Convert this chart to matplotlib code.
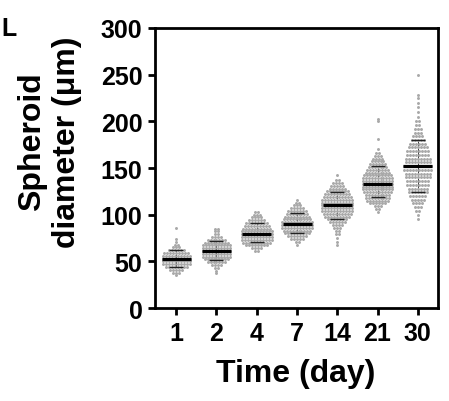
import matplotlib
matplotlib.use('Agg')
import matplotlib.pyplot as plt
import numpy as np

plt.rcParams['font.family'] = ['Liberation Sans', 'DejaVu Sans']
plt.rcParams['font.weight'] = 'bold'

days = ['1', '2', '4', '7', '14', '21', '30']

# spheroid diameters (um), one row of dots per value
d1_vals = [35, 38, 41, 44, 47, 50, 53, 56, 59, 62, 65, 68, 71, 74, 86]
d1_counts = [1, 3, 5, 8, 10, 10, 10, 10, 9, 6, 3, 2, 1, 1, 1]

d2_vals = [37, 40, 43, 46, 49, 52, 55, 58, 61, 64, 67, 70, 73, 76, 79, 82, 85]
d2_counts = [1, 1, 2, 4, 7, 9, 10, 10, 10, 10, 10, 9, 7, 4, 2, 2, 2]

d4_vals = [61, 64, 67, 70, 73, 76, 79, 82, 85, 88, 91, 94, 97, 100, 103]
d4_counts = [2, 4, 8, 10, 11, 11, 11, 11, 10, 9, 8, 6, 4, 3, 2]

d7_vals = [68, 71, 74, 77, 80, 83, 86, 89, 92, 95, 98, 101, 104, 107, 110, 113, 116]
d7_counts = [1, 2, 5, 7, 9, 10, 11, 11, 11, 10, 9, 8, 7, 5, 3, 2, 1]

d14_vals = [67, 71, 75, 79, 83, 86, 89, 92, 95, 98, 101, 104, 107, 110,
            113, 116, 119, 122, 125, 128, 131, 134, 137, 142]
d14_counts = [1, 1, 1, 2, 2, 3, 4, 6, 7, 9, 10, 11, 11, 11,
              11, 11, 10, 9, 8, 6, 5, 4, 2, 1]

d21_vals = [103, 106, 109, 112, 115, 118, 121, 124, 127, 130, 133, 136, 139,
            142, 145, 148, 151, 154, 157, 160, 163, 166, 170, 181, 200, 202]
d21_counts = [1, 2, 3, 6, 8, 9, 9, 10, 11, 11, 11, 11, 11,
              10, 9, 8, 7, 6, 5, 4, 3, 2, 1, 1, 1, 1]

d30_vals = [95, 100, 104, 108, 112, 116, 120, 124, 128, 132, 136, 140, 144,
            148, 152, 156, 160, 164, 168, 172, 176, 180, 184, 188, 192, 196,
            200, 205, 210, 215, 220, 225, 228, 250]
d30_counts = [1, 1, 2, 3, 4, 5, 6, 7, 7, 8, 8, 9, 9,
              10, 10, 9, 9, 8, 8, 7, 6, 5, 4, 3, 3, 2,
              2, 1, 1, 1, 1, 1, 1, 1]


def swarm_x(center, counts, dx=0.074):
    # spread the dots of each row side by side, centred on the column
    xs = []
    for n in counts:
        xs.extend(center + (np.arange(n) - (n - 1) / 2) * dx)
    return np.array(xs)


def main():
    groups = [(d1_vals, d1_counts), (d2_vals, d2_counts), (d4_vals, d4_counts),
              (d7_vals, d7_counts), (d14_vals, d14_counts),
              (d21_vals, d21_counts), (d30_vals, d30_counts)]

    fig = plt.figure(figsize=(4.49, 4.02), dpi=100)
    ax = fig.add_axes([0.345, 0.2313, 0.6303, 0.6966])

    for i, (vals, counts) in enumerate(groups, start=1):
        y = np.repeat(vals, counts)
        x = swarm_x(i, counts)
        ax.scatter(x, y, s=4.5, color='#a8a8a8', linewidths=0, zorder=2)
        # mean +- SD, the stem mostly hides behind the dots
        _, caps, stems = ax.errorbar(i, y.mean(), yerr=y.std(), color='#222222',
                                     lw=0.6, capsize=5, capthick=1.0, zorder=1)
        for c in caps:
            c.set_zorder(3)
        ax.hlines(np.median(y), i - 0.36, i + 0.36, color='black', lw=2.3, zorder=4)

    ax.set_xlim(0.47, 7.5)
    ax.set_ylim(0, 300)
    ax.set_xticks(range(1, 8))
    ax.set_xticklabels(days)
    ax.set_yticks(range(0, 301, 50))
    for s in ax.spines.values():
        s.set_linewidth(2)
    ax.tick_params(direction='out', length=5, width=2, labelsize=18,
                   top=False, right=False)
    ax.tick_params(axis='x', pad=4)
    ax.tick_params(axis='y', pad=4)

    fig.text(49.5 / 449, 1 - 142 / 402, 'Spheroid\ndiameter (\u03bcm)', rotation=90,
             ha='center', va='center', multialignment='center', fontsize=23,
             fontweight='bold')
    fig.text(296 / 449, 1 - 374 / 402, 'Time (day)', ha='center', va='center',
             fontsize=23, fontweight='bold')
    fig.text(1 / 449, 1 - 29 / 402, 'L', ha='left', va='center', fontsize=18,
             fontweight='bold')

    fig.savefig('out.png', dpi=100)


if __name__ == '__main__':
    main()
